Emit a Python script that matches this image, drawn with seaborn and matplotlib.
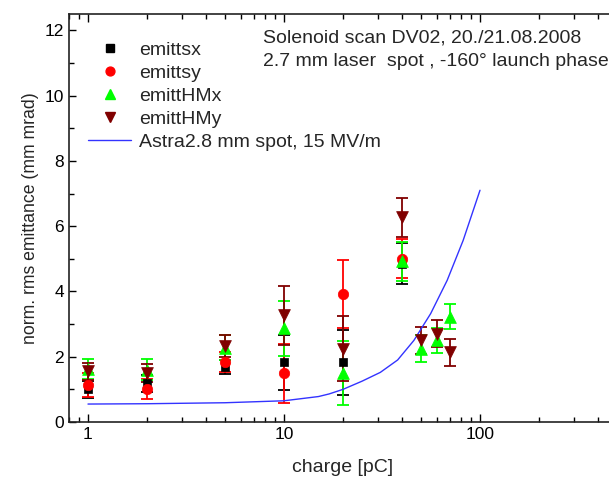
import numpy as np
import pandas as pd
import matplotlib
matplotlib.use("Agg")
import matplotlib.pyplot as plt
import seaborn as sns
from matplotlib.lines import Line2D

# measured emittance vs charge
charge_xy = [1, 2, 5, 10, 20, 40]
emittsx = [1.0, 1.18, 1.69, 1.83, 1.83, 4.85]
emittsx_err = [0.27, 0.25, 0.22, 0.85, 1.0, 0.62]
emittsy = [1.13, 1.0, 1.84, 1.49, 3.93, 5.0]
emittsy_err = [0.36, 0.31, 0.3, 0.9, 1.04, 0.6]

charge_hm = [1, 2, 5, 10, 20, 40, 50, 60, 70]
emittHMx = [1.62, 1.6, 2.28, 2.87, 1.5, 4.93, 2.25, 2.5, 3.22]
emittHMx_err = [0.3, 0.32, 0.38, 0.85, 0.98, 0.6, 0.41, 0.38, 0.38]
emittHMy = [1.55, 1.5, 2.32, 3.27, 2.25, 6.27, 2.5, 2.71, 2.13]
emittHMy_err = [0.25, 0.28, 0.34, 0.9, 1.0, 0.6, 0.41, 0.42, 0.41]

# Astra simulation
astra_charge = [1, 2, 5, 10, 15, 17, 20, 25, 31, 38, 46, 56, 68, 82, 100]
astra_emitt = [0.55, 0.56, 0.59, 0.65, 0.78, 0.86, 1.0, 1.25, 1.52, 1.9, 2.5, 3.32, 4.34, 5.56, 7.1]

sns.set_style("ticks")
plt.rcParams["font.family"] = ["Liberation Sans", "DejaVu Sans"]

fig = plt.figure(figsize=(6.09, 4.78), dpi=100)
ax = fig.add_axes([69 / 609, 56 / 478, (617 - 69) / 609, 408 / 478])

series = [
    ("emittsx", charge_xy, emittsx, emittsx_err, "black", "s", 6),
    ("emittsy", charge_xy, emittsy, emittsy_err, "#ff0000", "o", 7.5),
    ("emittHMx", charge_hm, emittHMx, emittHMx_err, "#00ff00", "^", 8.5),
    ("emittHMy", charge_hm, emittHMy, emittHMy_err, "#800000", "v", 8.5),
]

handles = []
for name, x, y, err, color, marker, ms in series:
    ax.errorbar(x, y, yerr=err, fmt="none", ecolor=color, elinewidth=1.3,
                capsize=4, capthick=1.3)
    df = pd.DataFrame({"charge": x, "emitt": y})
    sns.scatterplot(data=df, x="charge", y="emitt", ax=ax, color=color,
                    marker=marker, s=ms ** 2, edgecolor=color, linewidth=0.5,
                    zorder=3)
    handles.append(Line2D([], [], color=color, marker=marker, ls="none",
                          markersize=ms * 0.85, label=name))

astra = pd.DataFrame({"charge": astra_charge, "emitt": astra_emitt})
sns.lineplot(data=astra, x="charge", y="emitt", ax=ax, color="#3333ff",
             linewidth=1, zorder=2)
handles.append(Line2D([], [], color="#3333ff", lw=1,
                      label="Astra2.8 mm spot, 15 MV/m"))

ax.set_xscale("log")
ax.set_xlim(0.8, 500)
ax.set_ylim(0, 12.5)
ax.set_yticks([0, 2, 4, 6, 8, 10, 12])
ax.set_yticks(np.arange(1, 12, 2), minor=True)
ax.set_xticks([1, 10, 100])
ax.set_xticklabels(["1", "10", "100"])
ax.tick_params(which="both", direction="in", top=True, right=False,
               labelsize=12.5, colors="black")
ax.tick_params(which="major", length=6, width=1)
ax.tick_params(which="minor", length=3.5, width=1)
ax.tick_params(axis="y", which="major", length=5)
for sp in ax.spines.values():
    sp.set_color("#222222")
    sp.set_linewidth(1.2)

ax.set_xlabel("charge [pC]", fontsize=14, labelpad=12)
ax.set_ylabel("norm. rms emittance (mm mrad)", fontsize=12.7, labelpad=4)

leg = ax.legend(handles=handles, loc="upper left", bbox_to_anchor=(0.0, 0.98),
                frameon=False, fontsize=14, handlelength=2.2,
                labelspacing=0.27, handletextpad=0.4, borderaxespad=0.6)

fig.text(263 / 609, 1 - 38 / 478, "Solenoid scan DV02, 20./21.08.2008",
         fontsize=14, va="center", ha="left")
fig.text(263 / 609, 1 - 62 / 478, "2.7 mm laser  spot , -160° launch phase",
         fontsize=14, va="center", ha="left")

fig.savefig("out.png", dpi=100)
